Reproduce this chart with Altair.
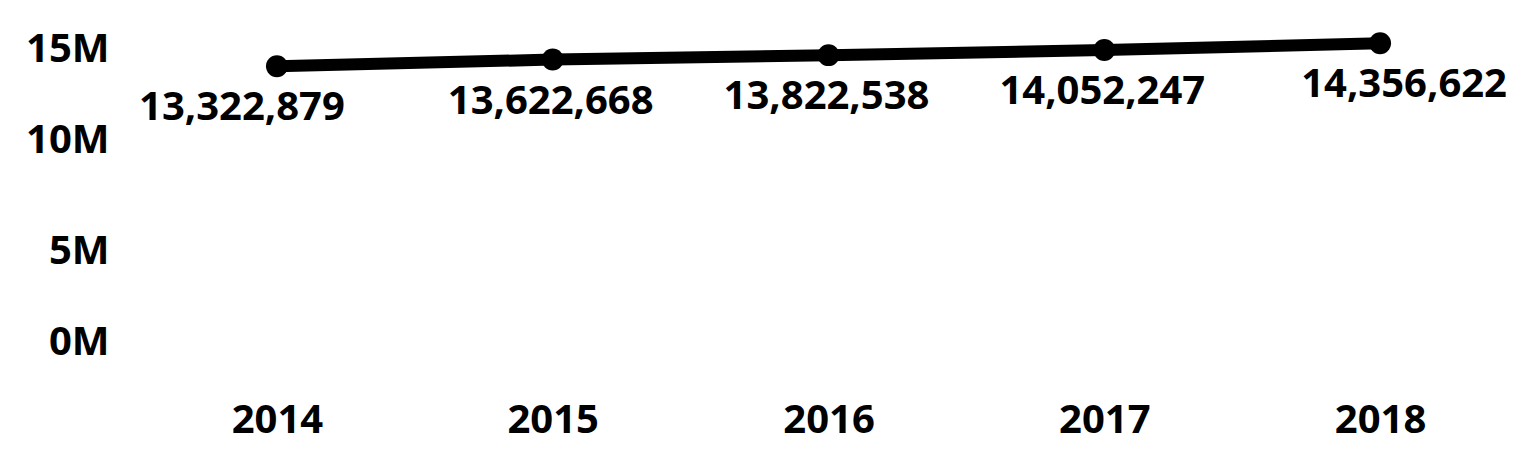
import altair as alt
import pandas as pd

years = ["2014", "2015", "2016", "2017", "2018"]
values = [13322879, 13622668, 13822538, 14052247, 14356622]
y_ticks = [0, 5000000, 10000000, 15000000]

df = pd.DataFrame({"year": years, "value": values})
df["label"] = [f"{v:,}" for v in values]

FONT = "Open Sans"

x_enc = alt.X(
    "year:O",
    scale=alt.Scale(type="point", padding=0.5),
    axis=alt.Axis(
        title=None, labelAngle=0, ticks=False, domain=False, grid=False,
        labelFont=FONT, labelFontSize=40, labelFontWeight="bold",
        labelColor="black", labelPadding=38,
    ),
)
y_enc = alt.Y(
    "value:Q",
    scale=alt.Scale(domain=[0, 15000000], nice=False, zero=True),
    axis=alt.Axis(
        title=None, values=y_ticks, ticks=False, domain=False, grid=False,
        labelExpr="format(datum.value / 1000000, 'd') + 'M'",
        labelFont=FONT, labelFontSize=40, labelFontWeight="bold",
        labelColor="black", labelPadding=30, labelFlush=True,
    ),
)

base = alt.Chart(df).encode(x=x_enc, y=y_enc)

line = base.mark_line(color="black", strokeWidth=12)
points = base.mark_point(filled=True, color="black", size=480, opacity=1)
labels = base.mark_text(
    font=FONT, fontSize=40, fontWeight="bold", color="black",
    baseline="middle", dy=42,
    dx=alt.expr("datum.year == '2014' ? -35 : (datum.year == '2018' ? 24 : -2)"),
).encode(text="label:N")

chart = (
    alt.layer(line, points, labels)
    .properties(
        width=1379, height=333,
        padding={"left": 17, "top": 11, "right": 0, "bottom": 4},
        background="white",
    )
    .configure_view(stroke=None)
)

chart.save("out.html", embed_options={"renderer": "svg", "actions": False})
